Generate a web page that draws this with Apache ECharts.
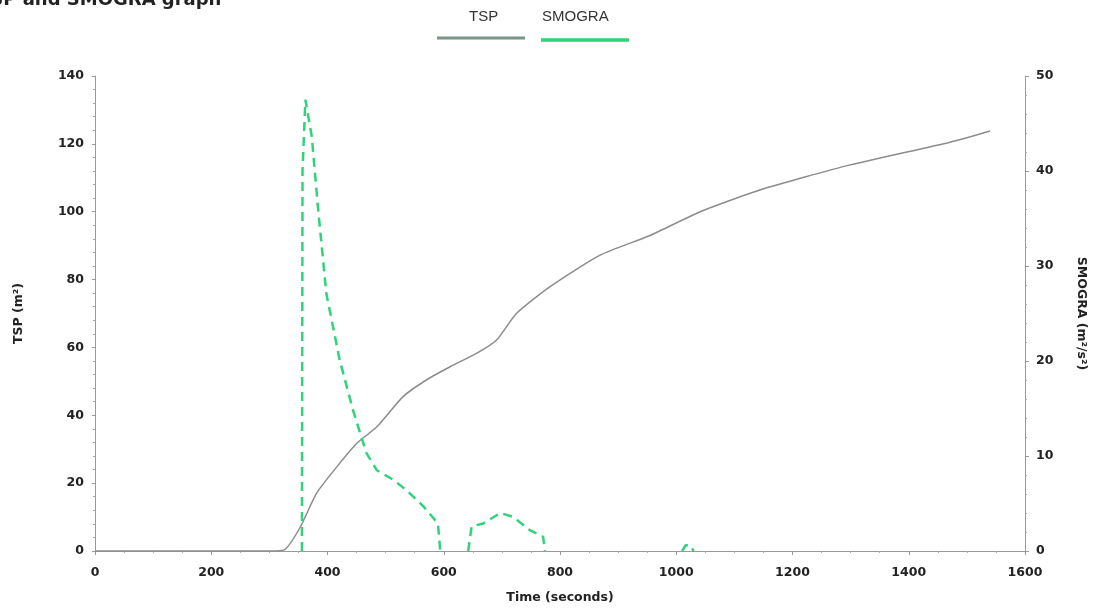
<!DOCTYPE html>
<html>
<head>
<meta charset="utf-8">
<script src="https://cdn.jsdelivr.net/npm/echarts@6/dist/echarts.min.js"></script>
<style>
  html, body { margin: 0; padding: 0; background: #fff; }
  #chart { width: 1096px; height: 609px; }
</style>
</head>
<body>
<div id="chart"></div>
<script>
// TSP (m²) against time (s)
const tspTime = [0, 300, 327, 353, 381, 416, 450, 485, 530, 570, 611, 657, 691, 725, 783, 869, 955, 1041, 1144, 1299, 1471, 1540]
const tspValue = [0, 0, 0.5, 7, 17, 24.8, 31.7, 36.6, 45.5, 50.4, 54.3, 58.3, 62.2, 70, 77.9, 87.2, 93, 100, 106.4, 113.8, 120.5, 123.8]

// SMOGRA (m²/s²) against time (s); '-' breaks the line
const smograTime = [356, 357, 362, 373, 384, 398, 421, 444, 467, 485, 513, 536, 565, 590, 594, 600, 642, 648, 668, 697, 719, 748, 771, 774, 800, 1010, 1016, 1024, 1030]
const smograValue = [0, 40, 47.5, 43.6, 35.9, 27.1, 20.1, 14.8, 10.3, 8.5, 7.5, 6.4, 4.7, 2.9, 0, '-', 0, 2.6, 2.9, 4.0, 3.6, 2.2, 1.5, 0, '-', 0, 0.6, 0.6, 0]

const tspData = tspTime.map((t, i) => [t, tspValue[i]])
const smograData = smograTime.map((t, i) => [t, smograValue[i]])

const labelStyle = {
	color: '#222',
	fontFamily: 'DejaVu Sans',
	fontWeight: 'bold',
	fontSize: 12.5
}
const axisLine = { lineStyle: { color: '#999', width: 1 } }

const chart = echarts.init(document.getElementById('chart'))
chart.setOption({
	animation: false,
	backgroundColor: '#fff',
	title: {
		text: 'TSP and SMOGRA graph',
		left: -27,
		top: -14,
		textStyle: { fontFamily: 'DejaVu Sans', fontWeight: 'bold', fontSize: 18, color: '#222' }
	},
	grid: { left: 95, right: 71, top: 76, bottom: 58 },
	xAxis: {
		type: 'value',
		min: 0,
		max: 1600,
		interval: 200,
		name: 'Time (seconds)',
		nameLocation: 'middle',
		nameGap: 40,
		nameTextStyle: labelStyle,
		axisLine: axisLine,
		axisTick: { length: 4, lineStyle: { color: '#999' } },
		minorTick: { show: true, splitNumber: 4, length: 2, lineStyle: { color: '#aaa' } },
		axisLabel: Object.assign({ margin: 15, formatter: v => String(v) }, labelStyle),
		splitLine: { show: false }
	},
	yAxis: [{
		type: 'value',
		min: 0,
		max: 140,
		interval: 20,
		name: 'TSP (m²)',
		nameLocation: 'middle',
		nameGap: 70,
		nameTextStyle: labelStyle,
		axisLine: Object.assign({ show: true }, axisLine),
		axisTick: { show: true, length: 3, lineStyle: { color: '#999' } },
		minorTick: { show: true, splitNumber: 5, length: 2, lineStyle: { color: '#aaa' } },
		axisLabel: Object.assign({ margin: 11 }, labelStyle),
		splitLine: { show: false }
	}, {
		type: 'value',
		position: 'right',
		min: 0,
		max: 50,
		interval: 10,
		name: 'SMOGRA (m²/s²)',
		nameLocation: 'middle',
		nameGap: 50,
		nameRotate: -90,
		nameTextStyle: labelStyle,
		axisLine: Object.assign({ show: true }, axisLine),
		axisTick: { show: true, length: 4, lineStyle: { color: '#999' } },
		minorTick: { show: true, splitNumber: 5, length: 2, lineStyle: { color: '#aaa' } },
		axisLabel: Object.assign({ margin: 11 }, labelStyle),
		splitLine: { show: false }
	}],
	graphic: [
		{ type: 'text', left: 469, top: 9, style: { text: 'TSP', fill: '#333', font: '15px "Liberation Sans Narrow", "Liberation Sans"' } },
		{ type: 'line', shape: { x1: 437, y1: 38, x2: 525, y2: 38 }, style: { stroke: '#7a9488', lineWidth: 3 } },
		{ type: 'text', left: 542, top: 9, style: { text: 'SMOGRA', fill: '#333', font: '15px "Liberation Sans Narrow", "Liberation Sans"' } },
		{ type: 'line', shape: { x1: 541, y1: 40, x2: 629, y2: 40 }, style: { stroke: '#2fd47a', lineWidth: 3.5 } }
	],
	series: [{
		name: 'TSP',
		type: 'line',
		yAxisIndex: 0,
		data: tspData,
		smooth: 0.2,
		showSymbol: false,
		lineStyle: { color: '#8c8c8c', width: 1.5 }
	}, {
		name: 'SMOGRA',
		type: 'line',
		yAxisIndex: 1,
		data: smograData,
		connectNulls: false,
		showSymbol: false,
		lineStyle: { color: '#2fd47a', width: 2.5, type: [9, 6] }
	}]
})
</script>
</body>
</html>
